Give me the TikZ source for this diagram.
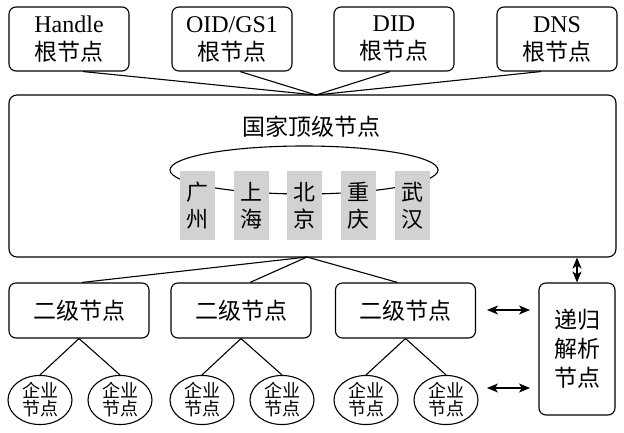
\documentclass[tikz,border=0pt]{standalone}
\usepackage{fontspec}
\setmainfont{Liberation Serif}
\newfontfamily\cjk{Noto Sans CJK SC}
\usetikzlibrary{arrows.meta,shapes.geometric,calc}
\tikzset{
  rootbox/.style={draw, rounded corners=7pt, minimum width=120pt, minimum height=64pt,
    align=center, inner sep=0pt, font=\fontsize{24}{28}\selectfont},
  bigbox/.style={draw, rounded corners=8pt, minimum width=607pt, minimum height=162pt, inner sep=0pt},
  citybox/.style={fill=gray!35, minimum width=35pt, minimum height=69pt, inner sep=0pt,
    align=center, font=\cjk\fontsize{22}{27}\selectfont},
  secbox/.style={draw, rounded corners=7pt, minimum width=140pt, minimum height=55pt,
    inner sep=0pt, font=\cjk\fontsize{23}{28}\selectfont},
  entnode/.style={draw, ellipse, minimum width=64pt, minimum height=49pt, inner sep=0pt,
    align=center, font=\cjk\fontsize{18}{18}\selectfont},
  recbox/.style={draw, rounded corners=7pt, minimum width=76pt, minimum height=132pt,
    inner sep=0pt, align=center, font=\cjk\fontsize{23}{29}\selectfont},
  link/.style={line width=1.1pt},
  biarrow/.style={line width=1.1pt, {Stealth[length=11pt,width=9pt,inset=3pt]}-{Stealth[length=11pt,width=9pt,inset=3pt]}}
}
\begin{document}
\begin{tikzpicture}[x=1pt,y=-1pt,line width=1.1pt]
\useasboundingbox (0,0) rectangle (624,433);
% root nodes
\node[rootbox] (h) at (69,39) {Handle\\{\cjk\fontsize{23}{28}\selectfont 根节点}};
\node[rootbox] (o) at (232,39) {OID/GS1\\{\cjk\fontsize{23}{28}\selectfont 根节点}};
\node[rootbox] (d) at (394,39) {DID\\{\cjk\fontsize{23}{28}\selectfont 根节点}};
\node[rootbox] (n) at (557,39) {DNS\\{\cjk\fontsize{23}{28}\selectfont 根节点}};
% top level box
\node[bigbox] (top) at (312.5,176) {};
\node[font=\cjk\fontsize{23}{28}\selectfont] (title) at (311,127) {国家顶级节点};
\coordinate (conv) at (316,95);
\draw[link] ($(h.south)+(14,0)$) -- (conv);
\draw[link] ($(o.south)+(8,0)$) -- (conv);
\draw[link] ($(d.south)+(-4,0)$) -- (conv);
\draw[link] ($(n.south)+(-16,0)$) -- (conv);
% ring of cities
\node[draw, ellipse, minimum width=268pt, minimum height=48pt, inner sep=0pt] (ring) at (304,170) {};
\node[citybox] (c1) at (197.5,205.5) {广\\州};
\node[citybox] (c2) at (251,205.5) {上\\海};
\node[citybox] (c3) at (304.5,205.5) {北\\京};
\node[citybox] (c4) at (358.5,205.5) {重\\庆};
\node[citybox] (c5) at (412.5,205.5) {武\\汉};
% secondary nodes
\coordinate (bot) at (307,257);
\node[secbox] (s1) at (79,310.5) {二级节点};
\node[secbox] (s2) at (241,310.5) {二级节点};
\node[secbox] (s3) at (405.5,310.5) {二级节点};
\draw[link] (bot) -- ($(s1.north)+(3,0)$);
\draw[link] (bot) -- ($(s2.north)+(9,0)$);
\draw[link] (bot) -- ($(s3.north)+(-8,0)$);
% enterprise nodes
\node[entnode] (e1) at (40,400) {企业\\节点};
\node[entnode] (e2) at (120,400) {企业\\节点};
\node[entnode] (e3) at (202,400) {企业\\节点};
\node[entnode] (e4) at (282,400) {企业\\节点};
\node[entnode] (e5) at (366,400) {企业\\节点};
\node[entnode] (e6) at (446,400) {企业\\节点};
\draw[link] (s1.south) -- (e1.north);
\draw[link] (s1.south) -- (e2.north);
\draw[link] (s2.south) -- (e3.north);
\draw[link] (s2.south) -- (e4.north);
\draw[link] (s3.south) -- (e5.north);
\draw[link] (s3.south) -- (e6.north);
% recursive resolver
\node[recbox] (r) at (577,349) {递归\\解析\\节点};
\draw[biarrow] (r.north |- top.south) -- (r.north);
\coordinate (a1l) at (487,310);
\coordinate (a1r) at (530,310);
\coordinate (a2l) at (487,388);
\coordinate (a2r) at (530,388);
\draw[biarrow] (a1l) -- (a1r);
\draw[biarrow] (a2l) -- (a2r);
\end{tikzpicture}
\end{document}
